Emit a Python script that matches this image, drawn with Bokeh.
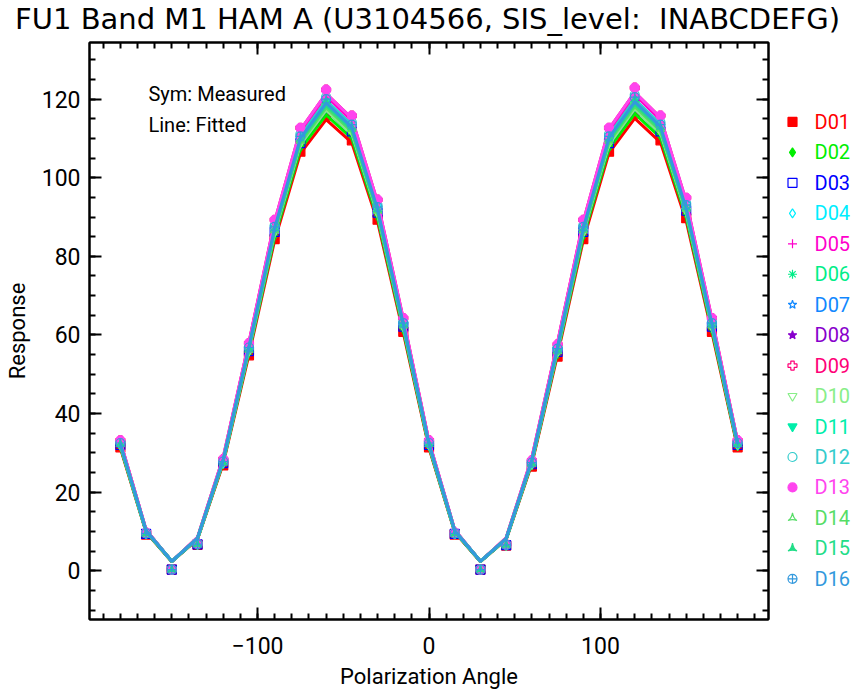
from bokeh.plotting import figure
from bokeh.models import Range1d, LinearAxis, FixedTicker, Label, ColumnDataSource
from bokeh.core.properties import value
from bokeh.layouts import column, row
from bokeh.embed import file_html
from bokeh.resources import INLINE

# ---------------- data ----------------
angles = [-180, -165, -150, -135, -120, -105, -90, -75, -60, -45, -30, -15, 0,
          15, 30, 45, 60, 75, 90, 105, 120, 135, 150, 165, 180]

detectors = ["D01", "D02", "D03", "D04", "D05", "D06", "D07", "D08",
             "D09", "D10", "D11", "D12", "D13", "D14", "D15", "D16"]

colors = ["#ff0000", "#00ee00", "#0000ff", "#00eeff", "#ff00cc", "#00ee88",
          "#1188ff", "#8800cc", "#ff0077", "#88ee88", "#00eeaa", "#33cccc",
          "#ff44ee", "#55dd66", "#22dd88", "#3399dd"]

markers = ["square", "diamond", "square", "diamond", "cross", "asterisk",
           "star", "star", "plus", "inverted_triangle", "inverted_triangle",
           "circle", "circle", "triangle_pin", "triangle_pin", "circle_cross"]

filled = [True, True, False, False, False, False, False, True,
          False, False, True, False, True, False, True, False]

# measured responses (symbols)
d01_meas = [31.4, 9.2, 0.3, 6.6, 26.8, 54.8, 84.4, 106.6, 115.8, 109.5, 89.3, 60.8, 31.4, 9.2, 0.3, 6.4, 26.5, 54.5, 84.4, 106.6, 116.3, 109.5, 89.7, 60.8, 31.4]
d02_meas = [31.7, 9.3, 0.3, 6.6, 27.1, 55.4, 85.3, 107.7, 117.0, 110.7, 90.2, 61.4, 31.7, 9.3, 0.3, 6.4, 26.8, 55.1, 85.3, 107.7, 117.5, 110.7, 90.7, 61.4, 31.7]
d03_meas = [32.0, 9.4, 0.3, 6.7, 27.4, 55.9, 86.2, 108.8, 118.2, 111.8, 91.1, 62.1, 32.0, 9.4, 0.3, 6.5, 27.1, 55.7, 86.2, 108.8, 118.7, 111.8, 91.6, 62.1, 32.0]
d04_meas = [32.7, 9.5, 0.3, 6.8, 27.9, 57.1, 87.9, 111.1, 120.6, 114.1, 93.0, 63.3, 32.7, 9.5, 0.3, 6.6, 27.6, 56.8, 87.9, 111.1, 121.1, 114.1, 93.5, 63.3, 32.7]
d05_meas = [33.0, 9.6, 0.3, 6.9, 28.2, 57.7, 88.8, 112.2, 121.8, 115.2, 93.9, 63.9, 33.0, 9.6, 0.3, 6.7, 27.9, 57.3, 88.8, 112.2, 122.3, 115.2, 94.4, 63.9, 33.0]
d06_meas = [32.2, 9.4, 0.3, 6.7, 27.5, 56.2, 86.6, 109.4, 118.8, 112.4, 91.6, 62.4, 32.2, 9.4, 0.3, 6.5, 27.2, 55.9, 86.6, 109.4, 119.3, 112.4, 92.1, 62.4, 32.2]
d07_meas = [32.3, 9.5, 0.3, 6.8, 27.7, 56.5, 87.1, 109.9, 119.4, 112.9, 92.0, 62.7, 32.3, 9.5, 0.3, 6.6, 27.4, 56.2, 87.1, 109.9, 119.9, 112.9, 92.5, 62.7, 32.3]
d08_meas = [32.2, 9.4, 0.3, 6.7, 27.5, 56.2, 86.6, 109.4, 118.8, 112.4, 91.6, 62.4, 32.2, 9.4, 0.3, 6.5, 27.2, 55.9, 86.6, 109.4, 119.3, 112.4, 92.1, 62.4, 32.2]
d09_meas = [33.2, 9.7, 0.3, 6.9, 28.4, 57.9, 89.3, 112.7, 122.4, 115.8, 94.4, 64.3, 33.2, 9.7, 0.3, 6.7, 28.1, 57.6, 89.3, 112.7, 122.9, 115.8, 94.9, 64.3, 33.2]
d10_meas = [32.0, 9.4, 0.3, 6.7, 27.4, 55.9, 86.2, 108.8, 118.2, 111.8, 91.1, 62.1, 32.0, 9.4, 0.3, 6.5, 27.1, 55.7, 86.2, 108.8, 118.7, 111.8, 91.6, 62.1, 32.0]
d11_meas = [32.3, 9.5, 0.3, 6.8, 27.7, 56.5, 87.1, 109.9, 119.4, 112.9, 92.0, 62.7, 32.3, 9.5, 0.3, 6.6, 27.4, 56.2, 87.1, 109.9, 119.9, 112.9, 92.5, 62.7, 32.3]
d12_meas = [32.7, 9.5, 0.3, 6.8, 27.9, 57.1, 87.9, 111.1, 120.6, 114.1, 93.0, 63.3, 32.7, 9.5, 0.3, 6.6, 27.6, 56.8, 87.9, 111.1, 121.1, 114.1, 93.5, 63.3, 32.7]
d13_meas = [33.2, 9.7, 0.3, 6.9, 28.4, 57.9, 89.3, 112.7, 122.4, 115.8, 94.4, 64.3, 33.2, 9.7, 0.3, 6.7, 28.1, 57.6, 89.3, 112.7, 122.9, 115.8, 94.9, 64.3, 33.2]
d14_meas = [32.2, 9.4, 0.3, 6.7, 27.5, 56.2, 86.6, 109.4, 118.8, 112.4, 91.6, 62.4, 32.2, 9.4, 0.3, 6.5, 27.2, 55.9, 86.6, 109.4, 119.3, 112.4, 92.1, 62.4, 32.2]
d15_meas = [32.3, 9.5, 0.3, 6.8, 27.7, 56.5, 87.1, 109.9, 119.4, 112.9, 92.0, 62.7, 32.3, 9.5, 0.3, 6.6, 27.4, 56.2, 87.1, 109.9, 119.9, 112.9, 92.5, 62.7, 32.3]
d16_meas = [32.5, 9.5, 0.3, 6.8, 27.8, 56.8, 87.5, 110.5, 120.0, 113.5, 92.5, 63.0, 32.5, 9.5, 0.3, 6.6, 27.5, 56.5, 87.5, 110.5, 120.5, 113.5, 93.0, 63.0, 32.5]

# fitted responses (lines)
d01_fit = [31.2, 9.8, 2.3, 8.0, 27.3, 55.0, 84.1, 106.2, 114.8, 108.9, 88.8, 60.6, 31.2, 9.8, 2.3, 7.9, 27.2, 55.0, 84.1, 106.3, 115.1, 109.0, 89.0, 60.6, 31.2]
d02_fit = [31.5, 9.9, 2.3, 8.1, 27.6, 55.6, 85.0, 107.3, 116.0, 110.0, 89.7, 61.2, 31.5, 9.9, 2.3, 8.0, 27.5, 55.6, 85.0, 107.4, 116.3, 110.2, 89.9, 61.2, 31.5]
d03_fit = [31.8, 10.0, 2.4, 8.2, 27.9, 56.1, 85.9, 108.4, 117.2, 111.1, 90.6, 61.9, 31.8, 10.0, 2.4, 8.1, 27.8, 56.1, 85.9, 108.5, 117.5, 111.3, 90.8, 61.9, 31.8]
d04_fit = [32.5, 10.3, 2.4, 8.3, 28.4, 57.3, 87.6, 110.6, 119.6, 113.4, 92.5, 63.1, 32.5, 10.3, 2.4, 8.2, 28.3, 57.3, 87.6, 110.8, 119.9, 113.6, 92.7, 63.1, 32.5]
d05_fit = [32.8, 10.4, 2.4, 8.4, 28.7, 57.9, 88.5, 111.7, 120.8, 114.5, 93.4, 63.7, 32.8, 10.4, 2.4, 8.3, 28.6, 57.9, 88.5, 111.9, 121.1, 114.7, 93.6, 63.7, 32.8]
d06_fit = [32.0, 10.1, 2.4, 8.2, 28.0, 56.4, 86.3, 108.9, 117.8, 111.7, 91.1, 62.2, 32.0, 10.1, 2.4, 8.1, 27.9, 56.4, 86.3, 109.1, 118.1, 111.9, 91.3, 62.2, 32.0]
d07_fit = [32.1, 10.1, 2.4, 8.3, 28.2, 56.7, 86.8, 109.5, 118.4, 112.2, 91.5, 62.5, 32.1, 10.1, 2.4, 8.2, 28.1, 56.7, 86.8, 109.6, 118.7, 112.4, 91.7, 62.5, 32.1]
d08_fit = [32.0, 10.1, 2.4, 8.2, 28.0, 56.4, 86.3, 108.9, 117.8, 111.7, 91.1, 62.2, 32.0, 10.1, 2.4, 8.1, 27.9, 56.4, 86.3, 109.1, 118.1, 111.9, 91.3, 62.2, 32.0]
d09_fit = [32.9, 10.4, 2.4, 8.5, 28.9, 58.1, 88.9, 112.2, 121.4, 115.1, 93.8, 64.1, 32.9, 10.4, 2.4, 8.4, 28.8, 58.1, 88.9, 112.4, 121.7, 115.3, 94.0, 64.1, 32.9]
d10_fit = [31.8, 10.0, 2.4, 8.2, 27.9, 56.1, 85.9, 108.4, 117.2, 111.1, 90.6, 61.9, 31.8, 10.0, 2.4, 8.1, 27.8, 56.1, 85.9, 108.5, 117.5, 111.3, 90.8, 61.9, 31.8]
d11_fit = [32.1, 10.1, 2.4, 8.3, 28.2, 56.7, 86.8, 109.5, 118.4, 112.2, 91.5, 62.5, 32.1, 10.1, 2.4, 8.2, 28.1, 56.7, 86.8, 109.6, 118.7, 112.4, 91.7, 62.5, 32.1]
d12_fit = [32.5, 10.3, 2.4, 8.3, 28.4, 57.3, 87.6, 110.6, 119.6, 113.4, 92.5, 63.1, 32.5, 10.3, 2.4, 8.2, 28.3, 57.3, 87.6, 110.8, 119.9, 113.6, 92.7, 63.1, 32.5]
d13_fit = [32.9, 10.4, 2.4, 8.5, 28.9, 58.1, 88.9, 112.2, 121.4, 115.1, 93.8, 64.1, 32.9, 10.4, 2.4, 8.4, 28.8, 58.1, 88.9, 112.4, 121.7, 115.3, 94.0, 64.1, 32.9]
d14_fit = [32.0, 10.1, 2.4, 8.2, 28.0, 56.4, 86.3, 108.9, 117.8, 111.7, 91.1, 62.2, 32.0, 10.1, 2.4, 8.1, 27.9, 56.4, 86.3, 109.1, 118.1, 111.9, 91.3, 62.2, 32.0]
d15_fit = [32.1, 10.1, 2.4, 8.3, 28.2, 56.7, 86.8, 109.5, 118.4, 112.2, 91.5, 62.5, 32.1, 10.1, 2.4, 8.2, 28.1, 56.7, 86.8, 109.6, 118.7, 112.4, 91.7, 62.5, 32.1]
d16_fit = [32.3, 10.2, 2.4, 8.3, 28.3, 57.0, 87.2, 110.0, 119.0, 112.8, 92.0, 62.8, 32.3, 10.2, 2.4, 8.2, 28.2, 57.0, 87.2, 110.2, 119.3, 113.0, 92.2, 62.8, 32.3]

measured = [d01_meas, d02_meas, d03_meas, d04_meas, d05_meas, d06_meas, d07_meas, d08_meas,
            d09_meas, d10_meas, d11_meas, d12_meas, d13_meas, d14_meas, d15_meas, d16_meas]
fitted = [d01_fit, d02_fit, d03_fit, d04_fit, d05_fit, d06_fit, d07_fit, d08_fit,
          d09_fit, d10_fit, d11_fit, d12_fit, d13_fit, d14_fit, d15_fit, d16_fit]

x_ticks = [-100, 0, 100]
x_tick_labels = ["\u2212100", "0", "100"]
y_ticks = [0, 20, 40, 60, 80, 100, 120]
y_tick_labels = ["0", "20", "40", "60", "80", "100", "120"]

title_text = "FU1 Band M1 HAM A (U3104566, SIS_level: \u00a0INABCDEFG)"
x_label = "Polarization Angle"
y_label = "Response"
note_sym = "Sym: Measured"
note_line = "Line: Fitted"

# ---------------- layout constants (page pixels) ----------------
TFONT = "DejaVu Sans"
FONT = "Roboto"
TOTAL_W, TOTAL_H = 853, 691
TITLE_H = 36
FRAME_L, FRAME_T, FRAME_R, FRAME_B = 89, 42, 768, 623
MR = 4
MAIN_W = FRAME_R + MR
MAIN_H = TOTAL_H - TITLE_H
LEG_W = TOTAL_W - MAIN_W
ML, MT, MB = FRAME_L, FRAME_T - TITLE_H, TOTAL_H - FRAME_B
MSIZE = 9

# ---------------- title strip ----------------
tf = figure(width=TOTAL_W, height=TITLE_H, x_range=Range1d(0, TOTAL_W), y_range=Range1d(TITLE_H, 0),
            output_backend="svg", toolbar_location=None,
            x_axis_location=None, y_axis_location=None, min_border=0)
tf.title.visible = False
tf.outline_line_color = None
tf.xgrid.visible = False
tf.ygrid.visible = False
tf.add_layout(Label(x=427, y=18, text=title_text, text_align="center",
                    text_baseline="middle", text_font=TFONT,
                    text_font_size="29px", text_color="black"))

# ---------------- main plot ----------------
p = figure(width=MAIN_W, height=MAIN_H, x_range=Range1d(-198, 198), y_range=Range1d(-12.4, 134.4),
           output_backend="svg", toolbar_location=None,
           min_border_left=ML, min_border_right=MR, min_border_top=MT, min_border_bottom=MB,
           x_axis_label=x_label, y_axis_label=y_label)
p.title.visible = False
p.xgrid.visible = False
p.ygrid.visible = False
p.outline_line_color = "black"
p.outline_line_width = 2

xt = FixedTicker(ticks=x_ticks, minor_ticks=list(range(-190, 200, 10)))
yt = FixedTicker(ticks=y_ticks, minor_ticks=list(range(-10, 135, 5)))

def style_axis(ax):
    ax.axis_line_width = 2
    ax.axis_line_color = "black"
    ax.major_tick_line_width = 2
    ax.minor_tick_line_width = 2
    ax.major_tick_in = 12
    ax.major_tick_out = 0
    ax.minor_tick_in = 6
    ax.minor_tick_out = 0
    ax.major_label_text_font = FONT
    ax.axis_label_text_font = FONT
    ax.axis_label_text_font_style = "normal"
    ax.axis_label_text_color = "black"
    ax.major_label_text_color = "black"

p.xaxis.ticker = xt
p.yaxis.ticker = yt
p.xaxis.major_label_overrides = dict(zip(x_ticks, x_tick_labels))
p.yaxis.major_label_overrides = dict(zip(y_ticks, y_tick_labels))
style_axis(p.xaxis[0])
style_axis(p.yaxis[0])
p.xaxis.major_label_text_font_size = "23px"
p.yaxis.major_label_text_font_size = "23px"
p.xaxis.axis_label_text_font_size = "22px"
p.yaxis.axis_label_text_font_size = "22px"
p.xaxis.major_label_standoff = 17
p.yaxis.major_label_standoff = 9
p.xaxis.axis_label_standoff = 7
p.yaxis.axis_label_standoff = 9

top_ax = LinearAxis(ticker=xt, major_label_overrides={t: "" for t in x_ticks})
style_axis(top_ax)
top_ax.major_label_text_font_size = "1px"
top_ax.major_label_standoff = 0
p.add_layout(top_ax, "above")
right_ax = LinearAxis(ticker=yt, major_label_overrides={t: "" for t in y_ticks})
style_axis(right_ax)
right_ax.major_label_text_font_size = "1px"
right_ax.major_label_standoff = 0
p.add_layout(right_ax, "right")

for i in range(len(detectors)):
    col = colors[i]
    p.scatter(angles, measured[i], marker=markers[i], size=MSIZE,
              line_color=col, line_width=1.2,
              fill_color=col if filled[i] else None)
    p.line(angles, fitted[i], line_color=col, line_width=3)

p.add_layout(Label(x=-163.6, y=121.3, text=note_sym, text_font=FONT, text_font_size="20px",
                   text_baseline="middle", text_color="black"))
p.add_layout(Label(x=-163.6, y=113.5, text=note_line, text_font=FONT, text_font_size="20px",
                   text_baseline="middle", text_color="black"))

# ---------------- legend strip (its frame is aligned with the main frame) ----------------
ROW0 = 122 - FRAME_T         # first row centre, px below frame top
ROW_STEP = 30.67
y_top = -ROW0 / ROW_STEP
y_bottom = y_top + (FRAME_B - FRAME_T) / ROW_STEP
lf = figure(width=LEG_W, height=MAIN_H, x_range=Range1d(MAIN_W, TOTAL_W), y_range=Range1d(y_bottom, y_top),
            output_backend="svg", toolbar_location=None,
            x_axis_location=None, y_axis_location=None, min_border=0)
lf.title.visible = False
lf.outline_line_color = None
lf.xgrid.visible = False
lf.ygrid.visible = False

rows = list(range(len(detectors)))
for i in rows:
    col = colors[i]
    lf.scatter([792], [i], marker=markers[i], size=MSIZE, line_color=col, line_width=1.2,
               fill_color=col if filled[i] else None)
src = ColumnDataSource(dict(x=[814] * len(detectors), y=rows, name=detectors, color=colors))
lf.text(x="x", y="y", text="name", text_color="color", source=src,
        text_font=value(FONT), text_font_size=value("20px"),
        text_baseline="middle", text_align="left")

layout = column(tf, row(p, lf, spacing=0), spacing=0)
open("out.html", "w").write(file_html(layout, INLINE))
